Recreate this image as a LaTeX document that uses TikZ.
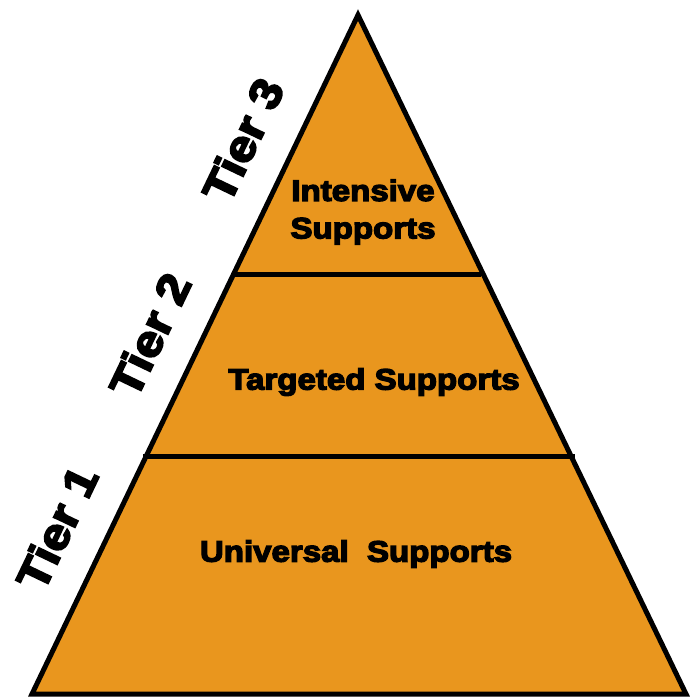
\documentclass[tikz,border=0pt]{standalone}
\usepackage{fontspec}
\setmainfont{Liberation Sans}[BoldFeatures={FakeBold=4.5,FakeStretch=1.12}]
\usetikzlibrary{calc}
\definecolor{tierfill}{RGB}{233,150,30}
\tikzset{
  pyramid/.style={fill=tierfill, draw=black, line width=5pt, line join=miter},
  divider/.style={draw=black, line width=5pt},
  inner/.style={font=\fontsize{29.5}{37.5}\selectfont\bfseries, align=center, inner sep=0pt},
  tierlabel/.style={font=\fontsize{44}{50}\selectfont\bfseries, rotate=64.4, inner sep=0pt}
}
\begin{document}
\begin{tikzpicture}[x=1pt,y=-1pt]
  \useasboundingbox (0,0) rectangle (696,698);
  % corners of the pyramid
  \coordinate (apex) at (358,15);
  \coordinate (bl) at (32,694);
  \coordinate (br) at (686,694);
  \draw[pyramid] (apex) -- (br) -- (bl) -- cycle;
  % tier dividers
  \coordinate (d1l) at (234,274);
  \coordinate (d1r) at (481,274);
  \coordinate (d2l) at (143,456);
  \coordinate (d2r) at (575,456);
  \draw[divider] (d1l) -- (d1r);
  \draw[divider] (d2l) -- (d2r);
  % tier contents
  \node[inner] (t3) at (363,212) {Intensive\\Supports};
  \node[inner] (t2) at (374,382) {Targeted Supports};
  \node[inner] (t1) at (356,554) {Universal\ \ Supports};
  % tier names along the left edge
  \node[tierlabel] (n3) at (243,140) {Tier 3};
  \node[tierlabel] (n2) at (150,335) {Tier 2};
  \node[tierlabel] (n1) at (57,528) {Tier 1};
\end{tikzpicture}
\end{document}
